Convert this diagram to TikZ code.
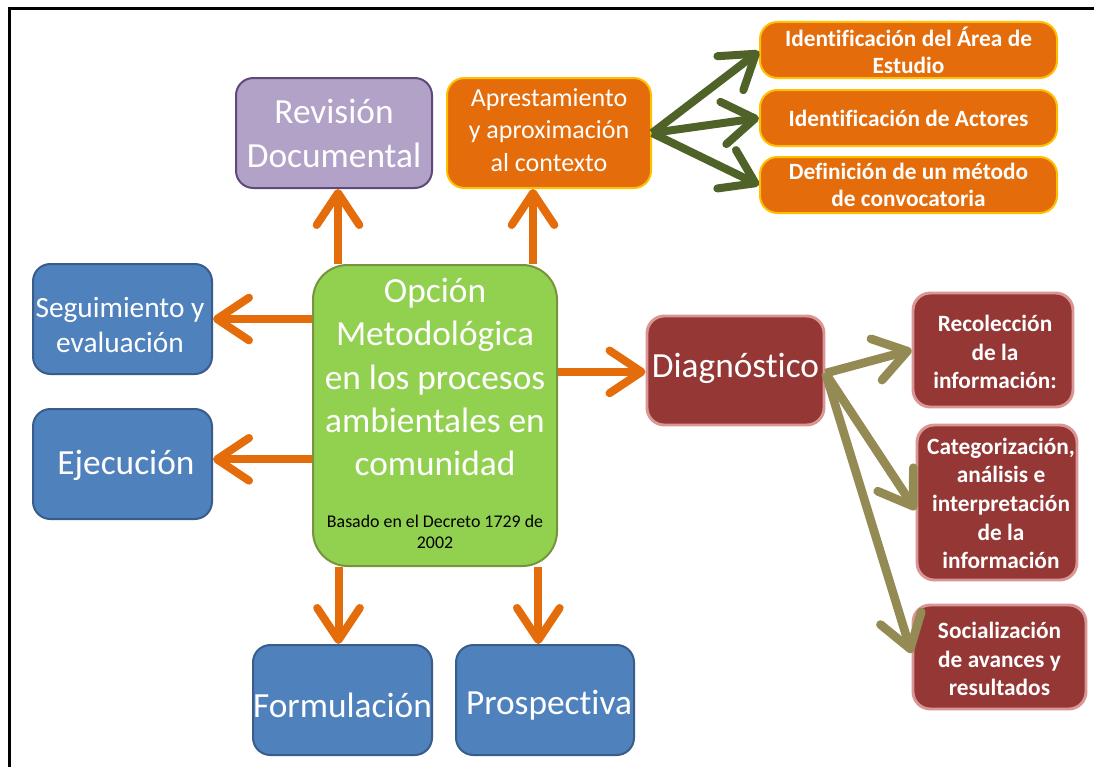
\documentclass[tikz,border=0pt]{standalone}
\usepackage{fontspec}
\setmainfont{Carlito}[Ligatures=NoCommon]
\usetikzlibrary{arrows.meta,calc}
\definecolor{corange}{HTML}{E46C0A}
\definecolor{cgold}{HTML}{FFC000}
\definecolor{cpurple}{HTML}{B3A2C7}
\definecolor{cpurpleb}{HTML}{5F497A}
\definecolor{cblue}{HTML}{4F81BD}
\definecolor{cblueb}{HTML}{385D8A}
\definecolor{cgreen}{HTML}{92D050}
\definecolor{cgreenb}{HTML}{77933C}
\definecolor{cmaroon}{HTML}{953735}
\definecolor{cpink}{HTML}{D99694}
\definecolor{cdgreen}{HTML}{4F6228}
\definecolor{ckhaki}{HTML}{948A54}
\begin{document}
\begin{tikzpicture}[x=0.75pt,y=-0.75pt,
  box/.style={rounded corners=13pt, line width=1.5pt, inner sep=0pt},
  bluebox/.style={box, fill=cblue, draw=cblueb, minimum width=134.25pt, minimum height=82.5pt},
  purplebox/.style={box, fill=cpurple, draw=cpurpleb, minimum width=147pt, minimum height=82.5pt},
  orbox/.style={box, fill=corange, draw=cgold},
  marbox/.style={box, fill=cmaroon, draw=cpink, line width=2.2pt},
  greenbox/.style={box, rounded corners=26pt, fill=cgreen, draw=cgreenb, minimum width=183pt, minimum height=225.75pt},
  txt/.style={text=white, align=center, inner sep=0pt},
  big/.style={font=\fontsize{26.5}{33}\selectfont},
  mid/.style={font=\fontsize{22}{26}\selectfont},
  apr/.style={font=\fontsize{19.5}{24.5}\selectfont},
  bold1/.style={font=\bfseries\fontsize{17.5}{20.5}\selectfont},
  bold2/.style={font=\bfseries\fontsize{17.5}{21.5}\selectfont},
  tipb/.style={-{Straight Barb[length=24pt,width=32pt,round]}},
  oarr/.style={draw=corange, line width=6pt, tipb},
  garr/.style={draw=cdgreen, line width=6pt, tipb},
  karr/.style={draw=ckhaki, line width=6.5pt, tipb}
]
\useasboundingbox (0,0) rectangle (1094,767);
\fill[white] (0,0) rectangle (1094,767);
\draw[line width=2pt] (9.5,767) -- (9.5,8.5) -- (1094,8.5);

% boxes
\node[purplebox] (rev) at (334,133) {};
\node[txt,big] (revt) at (rev) {Revisión\\Documental};
\node[orbox, minimum width=153pt, minimum height=82.5pt] (apr) at (549,133) {};
\node[txt,apr] (aprt) at (549,130) {Aprestamiento\\y aproximación\\al contexto};
\node[orbox, minimum width=222.75pt, minimum height=42pt] (ide1) at (908.5,50) {};
\node[txt,bold1] (ide1t) at (ide1) {Identif\kern0pt icación del Área de\\Estudio};
\node[orbox, minimum width=222.75pt, minimum height=42pt] (ide2) at (908.5,118) {};
\node[txt,bold1] (ide2t) at (ide2) {Identif\kern0pt icación de Actores};
\node[orbox, minimum width=222.75pt, minimum height=42pt] (ide3) at (908.5,185) {};
\node[txt,bold1] (ide3t) at (ide3) {Def\kern0pt inición de un método\\de convocatoria};

\node[greenbox] (ctr) at (435,415.5) {};
\node[txt, font=\fontsize{26.5}{32.3}\selectfont] (ctrt) at (435,377) {Opción\\Metodológica\\en los procesos\\ambientales en\\comunidad};
\node[align=center, inner sep=0pt, text=black, font=\fontsize{13.4}{15.8}\selectfont] (ctrs) at (435,531.5) {Basado en el Decreto 1729 de\\2002};

\node[bluebox] (seg) at (122.5,319) {};
\node[txt,mid] (segt) at (120,325) {Seguimiento y\\evaluación};
\node[bluebox] (eje) at (122.5,464) {};
\node[txt,big] (ejet) at (126,465) {Ejecución};
\node[bluebox] (for) at (342.5,700) {};
\node[txt,big] (fort) at (342.5,705) {Formulación};
\node[bluebox, minimum width=133.5pt] (pro) at (545,700) {};
\node[txt,big] (prot) at (549,705) {Prospectiva};

\node[marbox, minimum width=132.75pt, minimum height=81.75pt] (dia) at (735.5,370.5) {};
\node[txt,big] (diat) at (735.5,368) {Diagnóstico};
\node[marbox, minimum width=120pt, minimum height=85.5pt] (rec) at (993,350) {};
\node[txt,bold2] (rect) at (995,352) {Recolección\\de la\\información:};
\node[marbox, minimum width=120pt, minimum height=116.25pt] (cat) at (997,502.5) {};
\node[txt,bold2] (catt) at (1001,503.5) {Categorización,\\análisis e\\interpretación\\de la\\información};
\node[marbox, minimum width=129.75pt, minimum height=78pt] (soc) at (999.5,657) {};
\node[txt,bold2] (soct) at (999.5,659) {Socialización\\de avances y\\resultados};

% orange arrows
\draw[oarr] ([xshift=3pt]rev.south |- ctr.north) -- ([xshift=3pt]rev.south);
\draw[oarr] ([xshift=-12pt]apr.south |- ctr.north) -- ([xshift=-12pt]apr.south);
\draw[oarr] (ctr.west |- seg.east) -- (seg.east);
\draw[oarr] ([yshift=3.5pt]ctr.west |- eje.east) -- ([yshift=3.5pt]eje.east);
\draw[oarr] ([xshift=-3pt]for.north |- ctr.south) -- ([xshift=-3pt]for.north);
\draw[oarr] ([xshift=-5pt]pro.north |- ctr.south) -- ([xshift=-5pt]pro.north);
\draw[oarr] ([yshift=-1pt]ctr.east |- dia.west) -- ([yshift=-1pt]dia.west);

% green arrows
\draw[garr] (apr.east) -- ([yshift=-1pt]ide1.west);
\draw[garr] (apr.east) -- (ide2.west);
\draw[garr] (apr.east) -- (ide3.west);

% khaki arrows
\draw[karr] ([yshift=-2pt]dia.east) -- (rec.west);
\draw[karr] ([yshift=-2pt]dia.east) -- ([yshift=-5.5pt]cat.west);
\draw[karr] ([yshift=-2pt]dia.east) -- ([yshift=3pt]soc.west);
\end{tikzpicture}
\end{document}
